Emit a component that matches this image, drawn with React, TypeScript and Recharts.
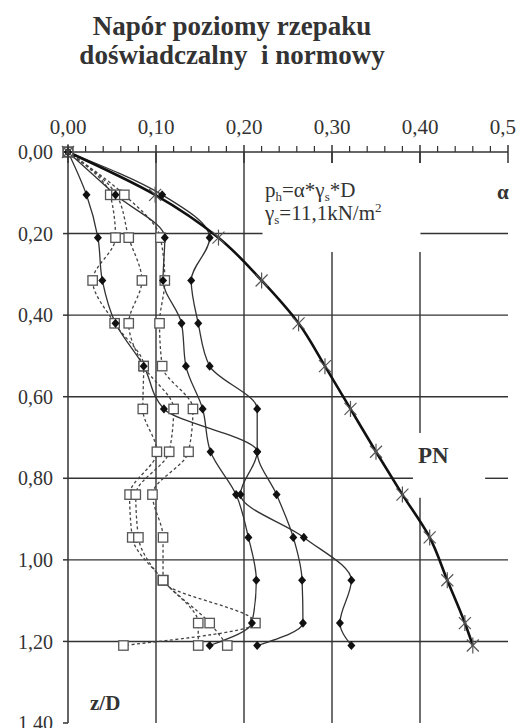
import { Line, LineChart, ReferenceLine, XAxis, YAxis } from 'recharts'

// depth levels z/D shared by every series
const zLevels = [0, 0.105, 0.21, 0.315, 0.42, 0.525, 0.63, 0.735, 0.84, 0.945, 1.05, 1.155, 1.21]

// PN norm curve
const pn = [0, 0.099, 0.171, 0.22, 0.262, 0.292, 0.321, 0.35, 0.38, 0.411, 0.431, 0.451, 0.46]

// measured, diamonds / solid
const d1 = [0, 0.021, 0.034, 0.039, 0.054, 0.086, 0.109, 0.215, 0.196, 0.268, 0.322, 0.309, 0.322]
const d2 = [0, 0.054, 0.11, 0.108, 0.129, 0.134, 0.153, 0.162, 0.191, 0.205, 0.214, 0.209, 0.161]
const d3 = [0, 0.107, 0.161, 0.14, 0.148, 0.161, 0.215, 0.215, 0.237, 0.256, 0.266, 0.267, 0.215]

// measured, open squares / dotted
const s1 = [0, 0.048, 0.054, 0.028, 0.053, 0.086, 0.085, 0.101, 0.07, 0.073, 0.108, 0.148, 0.148]
const s2 = [0, 0.055, 0.069, 0.084, 0.069, 0.086, 0.12, 0.115, 0.077, 0.08, 0.108, 0.161, 0.181]
const s3 = [0, 0.064, 0.105, 0.11, 0.104, 0.107, 0.142, 0.137, 0.096, 0.108, 0.108, 0.213, 0.063]

const xTicks = [
  0, 0.02, 0.04, 0.06, 0.08, 0.1, 0.12, 0.14, 0.16, 0.18, 0.2, 0.22, 0.24, 0.26, 0.28, 0.3,
  0.32, 0.34, 0.36, 0.38, 0.4, 0.42, 0.44, 0.46, 0.48, 0.5,
]
const yTicks = [0, 0.2, 0.4, 0.6, 0.8, 1.0, 1.2, 1.4]
const gridX = [0.1, 0.2, 0.3, 0.4]
const gridY = [0.2, 0.4, 0.6, 0.8, 1.0, 1.2]

const rows = zLevels.map((z, i) => ({
  z,
  pn: pn[i],
  d1: d1[i],
  d2: d2[i],
  d3: d3[i],
  s1: s1[i],
  s2: s2[i],
  s3: s3[i],
}))

// white boxes behind the formula and the PN label cut the grid
const GAPS = [
  { x1: 0.221, x2: 0.4005, y1: 0.027, y2: 0.245 },
  { x1: 0.392, x2: 0.474, y1: 0.689, y2: 0.848 },
]

const SERIF = '"Liberation Serif", "Times New Roman", serif'
const INK = '#333'
const PLOT_TOP = 152

const fmt = (v: number) => v.toFixed(2).replace('.', ',')

function cut(lo: number, hi: number, holes: Array<[number, number]>) {
  const out: Array<[number, number]> = []
  let start = lo
  for (const [a, b] of [...holes].sort((p, q) => p[0] - q[0])) {
    if (a > start) out.push([start, a])
    start = Math.max(start, b)
  }
  if (start < hi) out.push([start, hi])
  return out
}

function TopTick(props: any) {
  const { x, payload } = props
  const v = payload.value as number
  const major = Math.abs(v * 10 - Math.round(v * 10)) < 1e-6
  if (!major) {
    return <line x1={x} x2={x} y1={PLOT_TOP - 6} y2={PLOT_TOP} stroke={INK} strokeWidth={1.2} />
  }
  return (
    <g>
      <line x1={x} x2={x} y1={PLOT_TOP - 7} y2={PLOT_TOP + 11} stroke={INK} strokeWidth={1.5} />
      <text x={x} y={PLOT_TOP - 18} textAnchor="middle" fontSize={21} fontFamily={SERIF} fill={INK}>
        {fmt(v)}
      </text>
    </g>
  )
}

const diamondDot = (p: any) => {
  const { cx, cy, index, dataKey } = p
  return (
    <polygon
      key={`${dataKey}-${index}`}
      points={`${cx},${cy - 4.6} ${cx + 4},${cy} ${cx},${cy + 4.6} ${cx - 4},${cy}`}
      fill="#111"
    />
  )
}

const squareDot = (p: any) => {
  const { cx, cy, index, dataKey } = p
  return (
    <rect
      key={`${dataKey}-${index}`}
      x={cx - 4.7}
      y={cy - 4.7}
      width={9.4}
      height={9.4}
      fill="#fff"
      stroke="#555"
      strokeWidth={1.3}
    />
  )
}

const starDot = (p: any) => {
  const { cx, cy, index, dataKey } = p
  return (
    <g key={`${dataKey}-${index}`} stroke="#555" strokeWidth={1.2}>
      <line x1={cx - 6} y1={cy - 6} x2={cx + 6} y2={cy + 6} />
      <line x1={cx - 6} y1={cy + 6} x2={cx + 6} y2={cy - 6} />
      <line x1={cx} y1={cy - 8} x2={cx} y2={cy + 8} />
    </g>
  )
}

function Note({
  left,
  baseline,
  size,
  bold,
  children,
}: {
  left: number
  baseline: number
  size: number
  bold?: boolean
  children: React.ReactNode
}) {
  return (
    <div
      style={{
        position: 'absolute',
        left,
        top: baseline - 0.8375 * size,
        height: size,
        fontFamily: SERIF,
        fontSize: size,
        fontWeight: bold ? 700 : 400,
        lineHeight: 1,
        color: INK,
        whiteSpace: 'pre',
      }}
    >
      {children}
    </div>
  )
}

const sub = (t: string) => (
  <span style={{ fontSize: 13, verticalAlign: -4, lineHeight: 0 }}>{t}</span>
)

export default function App() {
  const gridLines: JSX.Element[] = []
  gridX.forEach((gx) => {
    const holes = GAPS.filter((g) => gx >= g.x1 && gx <= g.x2).map(
      (g) => [g.y1, g.y2] as [number, number],
    )
    cut(0, 1.4, holes).forEach(([a, b], k) =>
      gridLines.push(
        <ReferenceLine
          key={`vx${gx}-${k}`}
          segment={[
            { x: gx, y: a },
            { x: gx, y: b },
          ]}
          stroke={INK}
          strokeWidth={1.4}
        />,
      ),
    )
  })
  gridY.forEach((gy) => {
    const holes = GAPS.filter((g) => gy >= g.y1 && gy <= g.y2).map(
      (g) => [g.x1, g.x2] as [number, number],
    )
    cut(0, 0.5, holes).forEach(([a, b], k) =>
      gridLines.push(
        <ReferenceLine
          key={`hy${gy}-${k}`}
          segment={[
            { x: a, y: gy },
            { x: b, y: gy },
          ]}
          stroke={INK}
          strokeWidth={1.4}
        />,
      ),
    )
  })

  return (
    <div style={{ position: 'absolute', left: 0, top: 0, width: 516, height: 728, background: '#fff' }}>
      <div
        style={{
          position: 'absolute',
          left: 0,
          width: 464,
          top: 34.5 - 0.8375 * 27,
          textAlign: 'center',
          fontFamily: SERIF,
          fontWeight: 700,
          fontSize: 27,
          lineHeight: '29px',
          color: INK,
          whiteSpace: 'pre',
        }}
      >
        <div>Napór poziomy rzepaku</div>
        <div>doświadczalny  i normowy</div>
      </div>

      <LineChart
        width={516}
        height={728}
        data={rows}
        layout="vertical"
        margin={{ top: 122, right: 8, bottom: 5, left: 8 }}
      >
        <XAxis
          type="number"
          orientation="top"
          domain={[0, 0.5]}
          ticks={xTicks}
          interval={0}
          tick={(p: any) => <TopTick {...p} />}
          tickLine={false}
          axisLine={{ stroke: INK, strokeWidth: 1.5 }}
          height={30}
        />
        <YAxis
          type="number"
          dataKey="z"
          domain={[0, 1.4]}
          ticks={yTicks}
          interval={0}
          tickFormatter={fmt}
          tick={{ fontSize: 20, fill: INK, fontFamily: SERIF }}
          tickSize={5}
          tickMargin={10}
          tickLine={{ stroke: INK, strokeWidth: 1.5 }}
          axisLine={{ stroke: INK, strokeWidth: 1.5 }}
          width={60}
        />
        {gridLines}
        {(['s1', 's2', 's3'] as const).map((k) => (
          <Line
            key={k}
            dataKey={k}
            type="monotone"
            stroke="#444"
            strokeWidth={1.3}
            strokeDasharray="3 2.5"
            dot={squareDot}
            activeDot={false}
            isAnimationActive={false}
          />
        ))}
        {(['d1', 'd2', 'd3'] as const).map((k) => (
          <Line
            key={k}
            dataKey={k}
            type="monotone"
            stroke="#333"
            strokeWidth={1.3}
            dot={diamondDot}
            activeDot={false}
            isAnimationActive={false}
          />
        ))}
        <Line
          dataKey="pn"
          type="monotone"
          stroke="#111"
          strokeWidth={2.6}
          dot={starDot}
          activeDot={false}
          isAnimationActive={false}
        />
      </LineChart>

      <Note left={265} baseline={198} size={21}>
        p{sub('h')}=α*γ{sub('s')}*D
      </Note>
      <Note left={265} baseline={221} size={21}>
        γ{sub('s')}=11,1kN/m
        <span style={{ fontSize: 13, verticalAlign: 8, lineHeight: 0 }}>2</span>
      </Note>
      <Note left={497} baseline={200} size={21} bold>
        α
      </Note>
      <Note left={418} baseline={463} size={23} bold>
        PN
      </Note>
      <Note left={90} baseline={711} size={21} bold>
        z/D
      </Note>
    </div>
  )
}
